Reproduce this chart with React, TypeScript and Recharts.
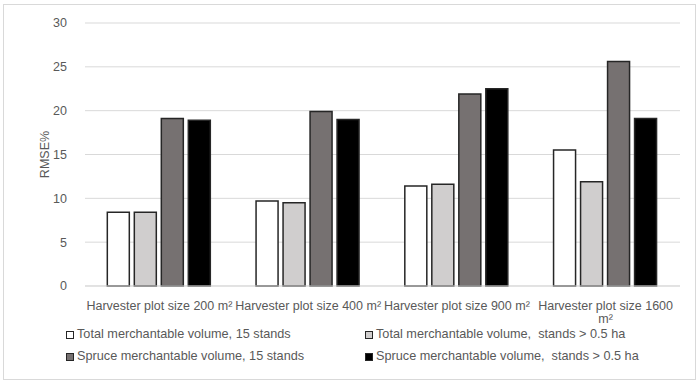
import { BarChart, Bar, XAxis, YAxis, CartesianGrid, Legend } from 'recharts';

const categories = [
  'Harvester plot size 200 m²',
  'Harvester plot size 400 m²',
  'Harvester plot size 900 m²',
  'Harvester plot size 1600 m²',
];
const totalAll = [8.4, 9.7, 11.4, 15.5];
const totalLarge = [8.4, 9.5, 11.6, 11.9];
const spruceAll = [19.1, 19.9, 21.9, 25.6];
const spruceLarge = [18.9, 19.0, 22.5, 19.1];
const yTicks = [0, 5, 10, 15, 20, 25, 30];

const series = [
  { key: 'totalAll', name: 'Total merchantable volume, 15 stands', color: '#ffffff' },
  { key: 'totalLarge', name: 'Total merchantable volume,  stands > 0.5 ha', color: '#d0cece' },
  { key: 'spruceAll', name: 'Spruce merchantable volume, 15 stands', color: '#767171' },
  { key: 'spruceLarge', name: 'Spruce merchantable volume,  stands > 0.5 ha', color: '#000000' },
];

const data = categories.map((c, i) => ({
  name: c,
  totalAll: totalAll[i],
  totalLarge: totalLarge[i],
  spruceAll: spruceAll[i],
  spruceLarge: spruceLarge[i],
}));

const FONT = '"Liberation Sans", Arial, sans-serif';
const TEXT = '#595959';
const TICK_SIZE = 12.5;

// wrap a label into lines no wider than maxWidth (like Excel does)
let ctx: CanvasRenderingContext2D | null = null;
function wrapLabel(label: string, maxWidth: number): string[] {
  if (!ctx) ctx = document.createElement('canvas').getContext('2d');
  if (!ctx) return [label];
  ctx.font = `${TICK_SIZE}px ${FONT}`;
  const words = label.split(' ');
  const lines: string[] = [];
  let cur = '';
  for (const w of words) {
    const next = cur ? cur + ' ' + w : w;
    if (cur && ctx.measureText(next).width > maxWidth) {
      lines.push(cur);
      cur = w;
    } else {
      cur = next;
    }
  }
  if (cur) lines.push(cur);
  return lines;
}

function CategoryTick(props: any) {
  const { x, y, payload } = props;
  const lines = wrapLabel(payload.value, 149);
  return (
    <text x={x} y={y + 16} textAnchor="middle" fill={TEXT} fontSize={TICK_SIZE} fontFamily={FONT}>
      {lines.map((l, i) => (
        <tspan key={i} x={x} dy={i === 0 ? 0 : 13}>
          {l}
        </tspan>
      ))}
    </text>
  );
}

function LegendBox() {
  return (
    <div
      style={{
        display: 'grid',
        gridTemplateColumns: '299px 320px',
        rowGap: 7,
        paddingLeft: 66,
        marginTop: -1,
        fontFamily: FONT,
        fontSize: 12.7,
        color: TEXT,
        lineHeight: '15px',
      }}
    >
      {series.map((s) => (
        <div key={s.key} style={{ display: 'flex', alignItems: 'center', whiteSpace: 'pre' }}>
          <span
            style={{
              display: 'inline-block',
              width: 8,
              height: 8,
              background: s.color,
              border: '1px solid #262626',
              boxSizing: 'border-box',
              marginRight: 3,
            }}
          />
          {s.name}
        </div>
      ))}
    </div>
  );
}

export default function App() {
  return (
    <div style={{ position: 'absolute', left: 0, top: 0, width: 700, height: 382, background: '#fff' }}>
      <div
        style={{
          position: 'absolute',
          left: 3,
          top: 4,
          width: 693,
          height: 376,
          border: '1px solid #d9d9d9',
          boxSizing: 'border-box',
        }}
      />
      <BarChart
        width={700}
        height={382}
        data={data}
        margin={{ top: 23, right: 20, left: 0, bottom: 6 }}
        barCategoryGap="15%"
        barGap={5}
      >
        <CartesianGrid vertical={false} stroke="#d9d9d9" />
        <XAxis
          dataKey="name"
          height={42}
          interval={0}
          tickLine={false}
          axisLine={{ stroke: '#d9d9d9' }}
          tick={<CategoryTick />}
        />
        <YAxis
          width={85}
          domain={[0, 30]}
          ticks={yTicks}
          tickLine={false}
          axisLine={false}
          tickMargin={12}
          tick={{ fontSize: TICK_SIZE, fill: TEXT, fontFamily: FONT }}
          label={{
            value: 'RMSE%',
            angle: -90,
            position: 'insideLeft',
            offset: 45,
            style: { fontSize: TICK_SIZE, fill: TEXT, fontFamily: FONT, textAnchor: 'middle' },
          }}
        />
        <Legend verticalAlign="bottom" height={48} content={<LegendBox />} />
        {series.map((s) => (
          <Bar
            key={s.key}
            dataKey={s.key}
            name={s.name}
            fill={s.color}
            stroke="#262626"
            strokeWidth={1.5}
            isAnimationActive={false}
          />
        ))}
      </BarChart>
    </div>
  );
}
